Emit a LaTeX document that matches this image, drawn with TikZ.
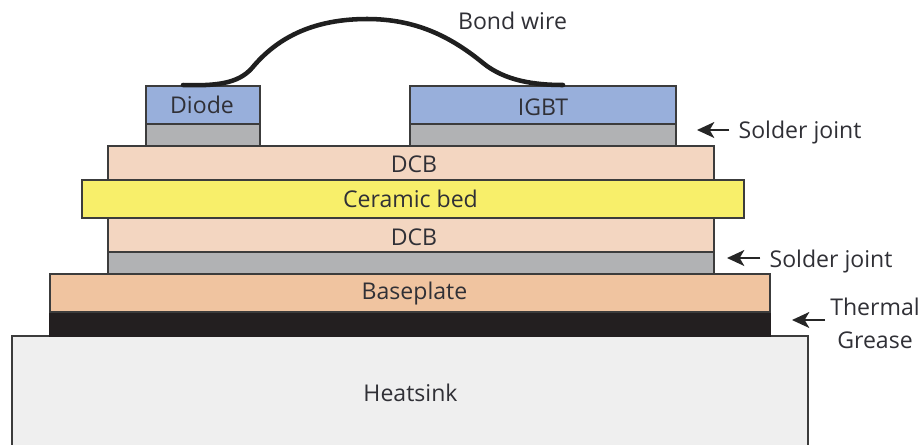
\documentclass[tikz,border=0pt]{standalone}
\usepackage{fontspec}
\setmainfont{Open Sans}
\usetikzlibrary{arrows.meta}
\definecolor{txt}{HTML}{303036}
\definecolor{edge}{HTML}{3C3C3C}
\tikzset{
  x=0.75pt, y=-0.75pt,
  layer/.style={draw=edge, line width=1.1pt, inner sep=0pt, outer sep=0pt, anchor=north west},
  lbl/.style={text=txt, font=\fontsize{17.3}{20}\selectfont, inner sep=0pt},
  pointer/.style={-{Stealth[length=13pt,width=12pt,inset=3.5pt]}, draw=black!85, line width=1.1pt},
  wire/.style={draw=black!88, line width=3.4pt, line cap=round}
}
\begin{document}
\begin{tikzpicture}
\useasboundingbox (0,0) rectangle (924,444);
\clip (0,0) rectangle (924,444);
\fill[white] (0,0) rectangle (924,444);
\definecolor{cdiode}{HTML}{98AFDB}
\definecolor{csolder}{HTML}{B1B2B4}
\definecolor{cdcb}{HTML}{F3D6C1}
\definecolor{cceramic}{HTML}{F8EF6A}
\definecolor{cbase}{HTML}{F0C4A0}
\definecolor{cgrease}{HTML}{231F20}
\definecolor{csink}{HTML}{EFEFEF}
\node[layer, fill=csink, minimum width=796*0.75pt, minimum height=130*0.75pt] (sink) at (12,336) {};
\node[layer, fill=cgrease, draw=cgrease, minimum width=720*0.75pt, minimum height=24*0.75pt] (grease) at (50,312) {};
\node[layer, fill=cbase, minimum width=720*0.75pt, minimum height=38*0.75pt] (base) at (50,274) {};
\node[layer, fill=csolder, minimum width=606*0.75pt, minimum height=22*0.75pt] (solderb) at (108,252) {};
\node[layer, fill=cdcb, minimum width=606*0.75pt, minimum height=34*0.75pt] (dcbb) at (108,218) {};
\node[layer, fill=cdcb, minimum width=606*0.75pt, minimum height=34*0.75pt] (dcbt) at (108,146) {};
\node[layer, fill=cceramic, minimum width=662*0.75pt, minimum height=38*0.75pt] (ceramic) at (82,180) {};
\node[layer, fill=csolder, minimum width=114*0.75pt, minimum height=22*0.75pt] (solderd) at (146,124) {};
\node[layer, fill=csolder, minimum width=266*0.75pt, minimum height=22*0.75pt] (solderi) at (410,124) {};
\node[layer, fill=cdiode, minimum width=114*0.75pt, minimum height=38*0.75pt] (diode) at (146,86) {};
\node[layer, fill=cdiode, minimum width=266*0.75pt, minimum height=38*0.75pt] (igbt) at (410,86) {};

\coordinate (wa) at (183,85);
\coordinate (wb) at (563,85);
\draw[wire] (wa) .. controls (215,86) and (238,84) .. (252,68)
  .. controls (272,44) and (305,19) .. (367,19)
  .. controls (415,19) and (450,36) .. (483,63)
  .. controls (505,81) and (535,85) .. (wb);

\node[lbl] (tdiode) at (202,105) {Diode};
\node[lbl] (tigbt) at (543,107) {IGBT};
\node[lbl] (tdcbt) at (414,164.5) {DCB};
\node[lbl] (tcer) at (410.5,199) {Ceramic bed};
\node[lbl] (tdcbb) at (414,237) {DCB};
\node[lbl] (tbase) at (414.5,293) {Baseplate};
\node[lbl] (tsink) at (410.5,393) {Heatsink};
\node[lbl] (tbond) at (512.5,21) {Bond wire};
\node[lbl] (ts1) at (800,133) {Solder joint};
\node[lbl] (ts2) at (831,261) {Solder joint};
\node[lbl] (tth) at (875,307) {Thermal};
\node[lbl] (tgr) at (875,340) {Grease};

\coordinate (p1) at (697,130);
\coordinate (p2) at (727,258);
\coordinate (p3) at (792,320);
\draw[pointer] (ts1.west |- p1) ++(-9,0) -- (p1);
\draw[pointer] (ts2.west |- p2) ++(-9,0) -- (p2);
\coordinate (q3) at (825,320);
\draw[pointer] (q3) -- (p3);
\end{tikzpicture}
\end{document}
